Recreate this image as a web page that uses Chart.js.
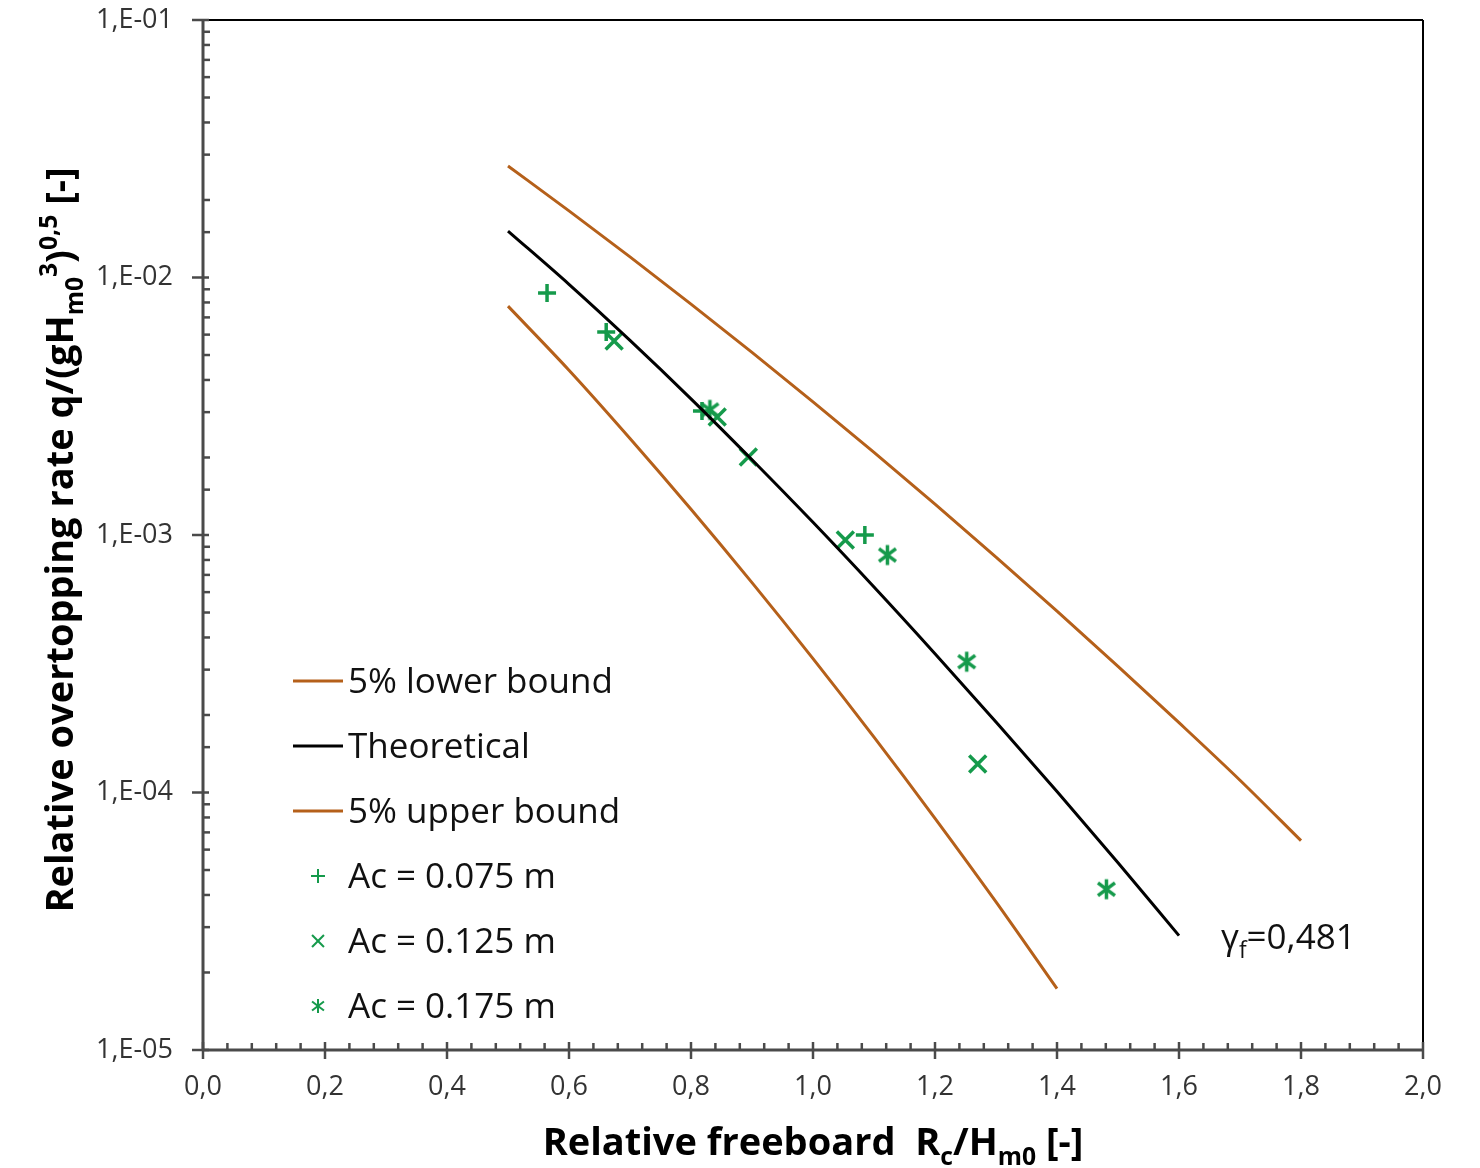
<!DOCTYPE html>
<html>
<head>
<meta charset="utf-8">
<script src="https://cdn.jsdelivr.net/npm/chart.js@4.4.1/dist/chart.umd.min.js"></script>
<style>
html,body{margin:0;padding:0;background:#fff;}
#wrap{position:relative;width:1480px;height:1168px;}
</style>
</head>
<body>
<div id="wrap"><canvas id="c" width="1480" height="1168"></canvas></div>
<script>
// ---- data ----
const theoryX = [0.5, 0.6, 0.7, 0.8, 0.9, 1.0, 1.1, 1.2, 1.3, 1.4, 1.5, 1.6];
const theoryY = [0.01515, 0.00941, 0.00570, 0.00338, 0.00196, 0.00112, 0.000628, 0.000346, 0.000188, 0.000101, 0.0000534, 0.0000278];

const boundHighX = [0.5, 0.6, 0.7, 0.8, 0.9, 1.0, 1.1, 1.2, 1.3, 1.4, 1.5, 1.6, 1.7, 1.8];
const boundHighY = [0.0271, 0.01815, 0.01202, 0.00788, 0.00512, 0.00329, 0.002093, 0.001317, 0.000821, 0.000506, 0.000309, 0.0001867, 0.0001116, 0.0000650];

const boundLowX = [0.5, 0.6, 0.7, 0.8, 0.9, 1.0, 1.1, 1.2, 1.3, 1.4];
const boundLowY = [0.00774, 0.004365, 0.002371, 0.001259, 0.000653, 0.000331, 0.000164, 0.0000794, 0.0000376, 0.0000173];

const ac075X = [0.564, 0.661, 0.818, 1.085];
const ac075Y = [0.00871, 0.00614, 0.00303, 0.00100];

const ac125X = [0.674, 0.843, 0.894, 1.053, 1.270];
const ac125Y = [0.00567, 0.00287, 0.00201, 0.000957, 0.000129];

const ac175X = [0.831, 1.122, 1.252, 1.481];
const ac175Y = [0.00306, 0.000836, 0.000322, 0.0000421];

const legendLabels = ['5% lower bound', 'Theoretical', '5% upper bound', 'Ac = 0.075 m', 'Ac = 0.125 m', 'Ac = 0.175 m'];
const xTickStep = 0.2;
const yMin = 1e-5, yMax = 1e-1;
const gammaLabel = '0,481';

// ---- styles ----
const BROWN = '#b5601a';
const GREEN = '#159a4b';
const FONT = '"Open Sans", "Liberation Sans", sans-serif';

function pts(xs, ys){ return xs.map((x,i)=>({x:x, y:ys[i]})); }

function asteriskCanvas(r, lw){
  const s = Math.ceil(2*r + lw*2);
  const cv = document.createElement('canvas');
  cv.width = s; cv.height = s;
  const g = cv.getContext('2d');
  g.strokeStyle = GREEN; g.lineWidth = lw; g.lineCap = 'butt';
  const c = s/2, d = r*0.85;
  g.beginPath();
  g.moveTo(c-d, c-d*0.75); g.lineTo(c+d, c+d*0.75);
  g.moveTo(c+d, c-d*0.75); g.lineTo(c-d, c+d*0.75);
  g.moveTo(c, c-r); g.lineTo(c, c+r);
  g.stroke();
  return cv;
}
const asterisk = asteriskCanvas(10, 3.5);

function line(ctx,x1,y1,x2,y2){ ctx.beginPath(); ctx.moveTo(x1,y1); ctx.lineTo(x2,y2); ctx.stroke(); }

function richWidth(ctx, segs, size, weight){
  let w = 0;
  segs.forEach(s=>{
    const fs = s.k==='n' ? size : size*0.65;
    ctx.font = weight+' '+fs+'px '+FONT;
    w += ctx.measureText(s.t).width;
  });
  return w;
}
function drawRich(ctx, segs, x, y, size, weight){
  let cx = x;
  segs.forEach(s=>{
    const fs = s.k==='n' ? size : size*0.65;
    ctx.font = weight+' '+fs+'px '+FONT;
    let dy = 0;
    if (s.k==='sub') dy = size*0.25;
    if (s.k==='sup') dy = -size*0.42;
    ctx.fillText(s.t, cx, y+dy);
    cx += ctx.measureText(s.t).width;
  });
}

const decorPlugin = {
  id: 'decor',
  afterDraw(chart){
    const ctx = chart.ctx, a = chart.chartArea;
    const xs = chart.scales.x, ys = chart.scales.y;
    ctx.save();
    ctx.lineCap = 'butt';
    // frame top/right
    ctx.strokeStyle = '#000'; ctx.lineWidth = 2;
    line(ctx, a.left, a.top, a.right, a.top);
    line(ctx, a.right, a.top, a.right, a.bottom);
    // axes
    ctx.strokeStyle = '#4a4a4a'; ctx.lineWidth = 3;
    line(ctx, a.left, a.top-1, a.left, a.bottom+1);
    line(ctx, a.left-1, a.bottom, a.right+1, a.bottom);
    // x ticks
    ctx.lineWidth = 2.5;
    const nMinor = Math.round((xs.max - xs.min) / (xTickStep/5));
    for (let i=0;i<=nMinor;i++){
      const v = xs.min + i*xTickStep/5;
      const px = xs.getPixelForValue(v);
      if (i%5===0) line(ctx, px, a.bottom-8, px, a.bottom+9);
      else line(ctx, px, a.bottom-7, px, a.bottom);
    }
    // y ticks
    ys.ticks.forEach(t=>{
      const py = ys.getPixelForValue(t.value);
      const lg = Math.log10(t.value);
      if (Math.abs(lg-Math.round(lg))<1e-9) line(ctx, a.left-11, py, a.left+6, py);
      else line(ctx, a.left, py, a.left+7, py);
    });

    // legend
    ctx.textBaseline = 'alphabetic';
    const lx = 293, tx = 348, rows = [681, 746, 811, 876, 941, 1006];
    const lfs = 35;
    const cols = [BROWN, '#000', BROWN];
    for (let i=0;i<6;i++){
      const y = rows[i];
      if (i<3){
        ctx.strokeStyle = cols[i]; ctx.lineWidth = 3;
        line(ctx, lx, y, lx+50, y);
      } else {
        ctx.strokeStyle = GREEN; ctx.lineWidth = 2;
        const cx = 318, r = 7;
        if (i===3){ line(ctx,cx-r,y,cx+r,y); line(ctx,cx,y-r,cx,y+r); }
        else if (i===4){ const d=r*0.85; line(ctx,cx-d,y-d,cx+d,y+d); line(ctx,cx+d,y-d,cx-d,y+d); }
        else { const d=r*0.85; line(ctx,cx-d,y-d*0.75,cx+d,y+d*0.75); line(ctx,cx+d,y-d*0.75,cx-d,y+d*0.75); line(ctx,cx,y-r,cx,y+r); }
      }
      ctx.fillStyle = '#111';
      ctx.font = lfs+'px '+FONT;
      ctx.fillText(legendLabels[i], tx, y+12);
    }

    // gamma label
    ctx.fillStyle = '#111';
    drawRich(ctx, [{t:'γ',k:'n'},{t:'f',k:'sub'},{t:'='+gammaLabel,k:'n'}], 1221, 949, 35, 'normal');

    // x title
    ctx.fillStyle = '#000';
    const xt = [{t:'Relative freeboard  R',k:'n'},{t:'c',k:'sub'},{t:'/H',k:'n'},{t:'m0',k:'sub'},{t:' [-]',k:'n'}];
    const xw = richWidth(ctx, xt, 38, 'bold');
    drawRich(ctx, xt, 813 - xw/2, 1155, 38, 'bold');

    // y title
    const yt = [{t:'Relative overtopping rate q/(gH',k:'n'},{t:'m0',k:'sub'},{t:'3',k:'sup'},{t:')',k:'n'},{t:'0,5',k:'sup'},{t:' [-]',k:'n'}];
    const yw = richWidth(ctx, yt, 38, 'bold');
    ctx.translate(73, 540);
    ctx.rotate(-Math.PI/2);
    drawRich(ctx, yt, -yw/2, 0, 38, 'bold');
    ctx.restore();
  }
};

const ctx = document.getElementById('c').getContext('2d');
new Chart(ctx, {
  type: 'scatter',
  data: {
    datasets: [
      {label: legendLabels[0], data: pts(boundHighX, boundHighY), showLine: true, borderColor: BROWN, borderWidth: 3, pointRadius: 0, cubicInterpolationMode: 'monotone'},
      {label: legendLabels[1], data: pts(theoryX, theoryY), showLine: true, borderColor: '#000', borderWidth: 3, pointRadius: 0, cubicInterpolationMode: 'monotone'},
      {label: legendLabels[2], data: pts(boundLowX, boundLowY), showLine: true, borderColor: BROWN, borderWidth: 3, pointRadius: 0, cubicInterpolationMode: 'monotone'},
      {label: legendLabels[3], data: pts(ac075X, ac075Y), pointStyle: 'cross', pointRadius: 9, borderColor: GREEN, borderWidth: 3.5, backgroundColor: GREEN},
      {label: legendLabels[4], data: pts(ac125X, ac125Y), pointStyle: 'crossRot', pointRadius: 12, borderColor: GREEN, borderWidth: 3.5, backgroundColor: GREEN},
      {label: legendLabels[5], data: pts(ac175X, ac175Y), pointStyle: asterisk, pointRadius: 10, borderColor: GREEN, backgroundColor: GREEN}
    ]
  },
  options: {
    responsive: false,
    animation: false,
    devicePixelRatio: 1,
    layout: {padding: {top: 20, right: 57, left: 0, bottom: 0}},
    plugins: {legend: {display: false}, tooltip: {enabled: false}},
    scales: {
      x: {
        type: 'linear', min: 0, max: 2,
        ticks: {stepSize: xTickStep, color: '#333', font: {family: FONT, size: 27}, padding: 21,
          callback: v => v.toFixed(1).replace('.', ',')},
        grid: {display: false, drawTicks: false},
        border: {display: false},
        afterFit: s => { s.height = 118; s.paddingLeft = 0; s.paddingRight = 0; }
      },
      y: {
        type: 'logarithmic', min: yMin, max: yMax,
        ticks: {autoSkip: false, color: '#333', font: {family: FONT, size: 27}, padding: 30,
          callback: v => { const l = Math.log10(v); if (Math.abs(l-Math.round(l))>1e-9) return ''; const e = -Math.round(l); return '1,E-' + (e<10?'0':'') + e; }},
        grid: {display: false, drawTicks: false},
        border: {display: false},
        afterFit: s => { s.width = 203; s.paddingTop = 0; s.paddingBottom = 0; }
      }
    }
  },
  plugins: [decorPlugin]
});
</script>
</body>
</html>
